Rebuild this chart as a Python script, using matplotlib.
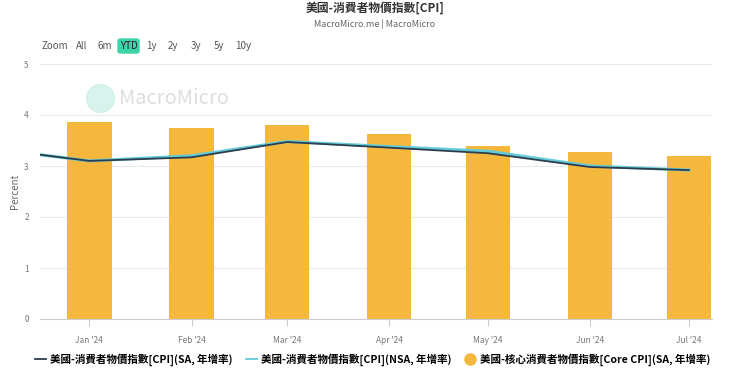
import numpy as np
import pandas as pd
import matplotlib
matplotlib.use('Agg')
import matplotlib.pyplot as plt
from matplotlib.patches import FancyBboxPatch
from matplotlib.lines import Line2D

plt.rcParams['font.family'] = ['Noto Sans CJK TC', 'DejaVu Sans']

# datos
months = ['2023-12-01', '2024-01-01', '2024-02-01', '2024-03-01', '2024-04-01',
          '2024-05-01', '2024-06-01', '2024-07-01']
cpi_sa = [3.35, 3.10, 3.17, 3.47, 3.36, 3.25, 2.98, 2.92]
cpi_nsa = [3.35, 3.10, 3.20, 3.48, 3.38, 3.29, 3.00, 2.92]
core_months = months[1:]
core_cpi = [3.86, 3.75, 3.80, 3.62, 3.40, 3.27, 3.20]
tick_labels = ["Jan '24", "Feb '24", "Mar '24", "Apr '24", "May '24", "Jun '24", "Jul '24"]

dates = pd.to_datetime(months)
core_dates = pd.to_datetime(core_months)

fig = plt.figure(figsize=(7.5, 3.79), dpi=100)
ax = fig.add_axes([40 / 750, 1 - 319 / 379, 672 / 750, 255 / 379])

bar_col = '#F5B83D'
dark_col = '#2E3D4C'
cyan_col = '#63CBD9'

ax.bar(core_dates, core_cpi, width=13.5, color=bar_col, zorder=2)
ax.plot(dates, cpi_nsa, color=cyan_col, lw=2.2, zorder=3)
ax.plot(dates, cpi_sa, color=dark_col, lw=1.3, zorder=4)

ax.set_xlim(pd.Timestamp('2023-12-17'), pd.Timestamp('2024-07-08'))
ax.set_ylim(0, 5)
ax.set_yticks(range(6))
ax.grid(axis='y', color='#EAEAEA', lw=0.8, zorder=0)
ax.set_xticks(core_dates)
ax.set_xticklabels(tick_labels)
ax.tick_params(axis='x', colors='#CCCCCC', labelcolor='#777777', labelsize=6, length=5, pad=7)
ax.tick_params(axis='y', length=0, labelcolor='#777777', labelsize=6, pad=8)
for s in ['top', 'right', 'left']:
    ax.spines[s].set_visible(False)
ax.spines['bottom'].set_color('#CCCCCC')
ax.set_ylabel('Percent', fontsize=7, color='#666666', labelpad=3)

# títulos
fig.text(0.5, 1 - 8 / 379, '美國-消費者物價指數[CPI]', ha='center', va='center',
         fontsize=8.5, fontweight='bold', color='#333333')
fig.text(0.5, 1 - 24 / 379, 'MacroMicro.me | MacroMicro', ha='center', va='center',
         fontsize=6.5, color='#666666')

# botones de zoom
btns = ['Zoom', 'All', '6m', 'YTD', '1y', '2y', '3y', '5y', '10y']
bx = [41, 76, 97, 118, 146, 168, 191, 214, 235]
for b, x in zip(btns, bx):
    if b == 'YTD':
        fig.patches.append(FancyBboxPatch((x / 750, 1 - 53 / 379), 21 / 750, 14 / 379,
                                          boxstyle='round,pad=0,rounding_size=0.004',
                                          transform=fig.transFigure, color='#3CD3A8'))
    fig.text((x + (2 if b == 'YTD' else 0)) / 750, 1 - 46 / 379, b, ha='left', va='center',
             fontsize=7, color='#222222' if b == 'YTD' else '#555555')

# marca de agua
fig.add_artist(Line2D([100 / 750], [1 - 98 / 379], marker='o', markersize=20,
                      color='#C6EEE4', alpha=0.7, transform=fig.transFigure))
fig.text(119 / 750, 1 - 98 / 379, 'MacroMicro', ha='left', va='center', fontsize=14.5,
         color='#DDDDDD')

# leyenda
handles = [Line2D([], [], color=dark_col, lw=1.3),
           Line2D([], [], color=cyan_col, lw=1.3),
           Line2D([], [], color=bar_col, marker='o', ls='none', markersize=8)]
labels = ['美國-消費者物價指數[CPI](SA, 年增率)', '美國-消費者物價指數[CPI](NSA, 年增率)',
          '美國-核心消費者物價指數[Core CPI](SA, 年增率)']
fig.legend(handles, labels, loc='center', bbox_to_anchor=(0.497, 1 - 360 / 379), ncol=3,
           frameon=False, handlelength=1.1, handletextpad=0.4, columnspacing=1.2,
           prop={'weight': 'bold', 'size': 7.6})

fig.savefig('out.png', dpi=100)
